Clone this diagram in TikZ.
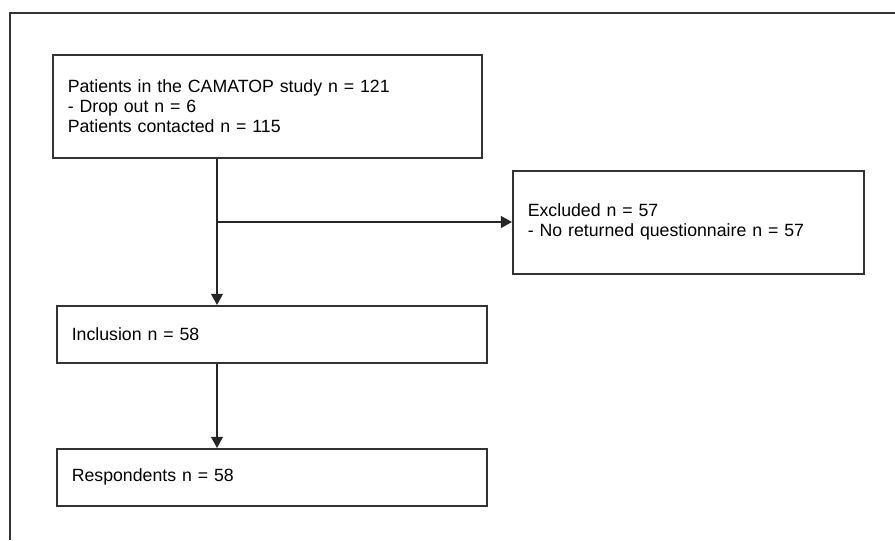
\documentclass[tikz,border=0pt]{standalone}
\usepackage{fontspec}
\setmainfont{Liberation Sans}
\usepackage{tikz}
\usetikzlibrary{positioning,arrows.meta}

\begin{document}
\begin{tikzpicture}[
      x=0.025cm, y=-0.025cm,
      every node/.style={
        draw=black!80,
        line width=1.1pt,
        rectangle,
        anchor=north west,
        inner xsep=0.375cm,
        align=left,
        font=\fontsize{12.6}{14.4}\selectfont
      },
      wide/.style={minimum width=10.75cm, text width=10cm},
      >={Triangle[length=8pt,width=8.5pt]} % arrow tip
    ]
    \useasboundingbox (0,0) rectangle (895,540);

    % Frame
    \draw[black!80, line width=1.1pt] (10,540) -- (10,13) -- (895,13);

    % Boxes
    \node (study) [minimum width=10.725cm, text width=9.975cm, minimum height=2.575cm] at (52,54)
      {Patients in the CAMATOP study n = 121\\- Drop out n = 6\\Patients contacted n = 115};
    \node (excl) [minimum width=8.775cm, text width=8.025cm, minimum height=2.575cm] at (512,170)
      {Excluded n = 57\\- No returned questionnaire n = 57};
    \node (incl) [wide, minimum height=1.425cm] at (56,305) {Inclusion n = 58};
    \node (resp) [wide, minimum height=1.425cm] at (56,448) {Respondents n = 58};

    % Arrows
    \coordinate (split) at (217,222);
    \draw[black!85, line width=1.1pt] (study.south -| split) -- (split);
    \draw[->, black!85, line width=1.1pt] (split) -- (excl.west |- split);
    \draw[->, black!85, line width=1.1pt] (split) -- (incl.north -| split);
    \draw[->, black!85, line width=1.1pt] (incl.south -| split) -- (resp.north -| split);
  \end{tikzpicture}
\end{document}
